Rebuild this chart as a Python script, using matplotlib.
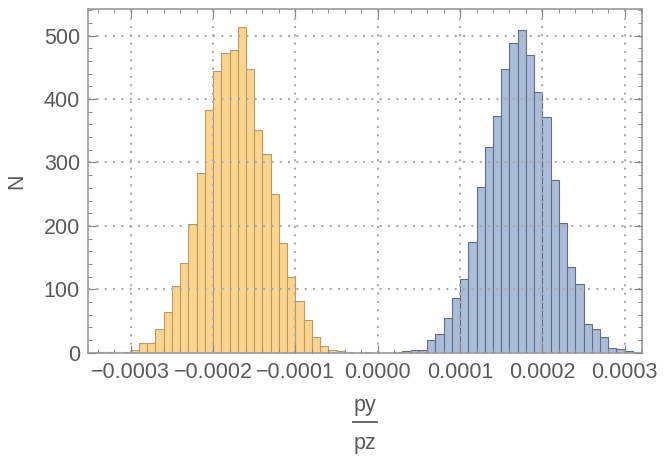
import matplotlib
matplotlib.use("Agg")
import matplotlib.pyplot as plt
from matplotlib.ticker import MultipleLocator, FixedLocator, FuncFormatter
from matplotlib.lines import Line2D

# bin left edges (units of 1e-5) and counts
orange_left = [-34, -33, -32, -31, -30, -29, -28, -27, -26, -25, -24, -23, -22, -21, -20,
               -19, -18, -17, -16, -15, -14, -13, -12, -11, -10, -9, -8, -7, -6, -5, -4, -3, -2]
orange_counts = [1, 1, 0, 1, 5, 15, 15, 37, 64, 105, 141, 203, 283, 383, 444,
                 473, 478, 514, 447, 352, 313, 251, 173, 119, 82, 51, 25, 11, 5, 3, 1, 0, 1]
blue_left = [2, 3, 4, 5, 6, 7, 8, 9, 10, 11, 12, 13, 14, 15, 16, 17, 18, 19, 20,
             21, 22, 23, 24, 25, 26, 27, 28, 29, 30]
blue_counts = [1, 3, 5, 5, 20, 30, 54, 87, 116, 175, 261, 325, 374, 448, 489, 509, 470, 411, 372,
               272, 204, 135, 108, 46, 37, 24, 7, 6, 2]
bin_width = 1e-5
x_ticks = [-0.0003, -0.0002, -0.0001, 0.0, 0.0001, 0.0002, 0.0003]
y_ticks = [0, 100, 200, 300, 400, 500]

plt.rcParams['font.family'] = ['Liberation Sans', 'DejaVu Sans']
W, H = 671, 457
fig = plt.figure(figsize=(W / 100, H / 100), dpi=100)
ax = fig.add_axes([88.3 / W, 1 - 352.7 / H, (642 - 88.3) / W, (352.7 - 9.3) / H])

ax.bar([v * bin_width for v in orange_left], orange_counts, width=bin_width, align='edge',
       facecolor='#fbd48f', edgecolor='#b99a62', linewidth=0.8, zorder=2)
ax.bar([v * bin_width for v in blue_left], blue_counts, width=bin_width, align='edge',
       facecolor='#abbcd9', edgecolor='#5e6e8b', linewidth=0.8, zorder=2)

ax.set_xlim(-3.516e-4, 3.21e-4)
ax.set_ylim(0, 541.6)

ax.xaxis.set_major_locator(FixedLocator(x_ticks))
ax.xaxis.set_minor_locator(MultipleLocator(2e-5))
ax.yaxis.set_major_locator(FixedLocator(y_ticks))
ax.yaxis.set_minor_locator(MultipleLocator(20))
ax.xaxis.set_major_formatter(FuncFormatter(lambda v, p: ("\u2212" if v < -1e-12 else "") + "%.4f" % abs(v)))

ax.tick_params(which='both', direction='in', top=True, right=True, colors='#888888',
               labelcolor='#5a5a5a', labelsize=15.5)
ax.tick_params(which='major', length=6, width=0.9)
ax.tick_params(which='minor', length=3, width=0.7)
ax.tick_params(axis='x', pad=7)
ax.tick_params(axis='y', pad=6)
for s in ax.spines.values():
    s.set_color('#999999')
    s.set_linewidth(1.2)

ax.grid(True, which='major', linestyle=(0, (1, 3)), color='#aaaaaa', linewidth=1.5, zorder=3)
ax.set_axisbelow(False)

fig.text(17 / W, 1 - 181 / H, "N", rotation=90, ha='center', va='center', fontsize=15.5, color='#5a5a5a')
fig.text(365 / W, 1 - 411.5 / H, "py", ha='center', va='baseline', fontsize=15.5, color='#5a5a5a')
fig.add_artist(Line2D([353 / W, 377 / W], [1 - 421.5 / H, 1 - 421.5 / H], color='#5a5a5a', linewidth=1.3))
fig.text(365 / W, 1 - 449.5 / H, "pz", ha='center', va='baseline', fontsize=15.5, color='#5a5a5a')

fig.savefig("out.png", dpi=100)
